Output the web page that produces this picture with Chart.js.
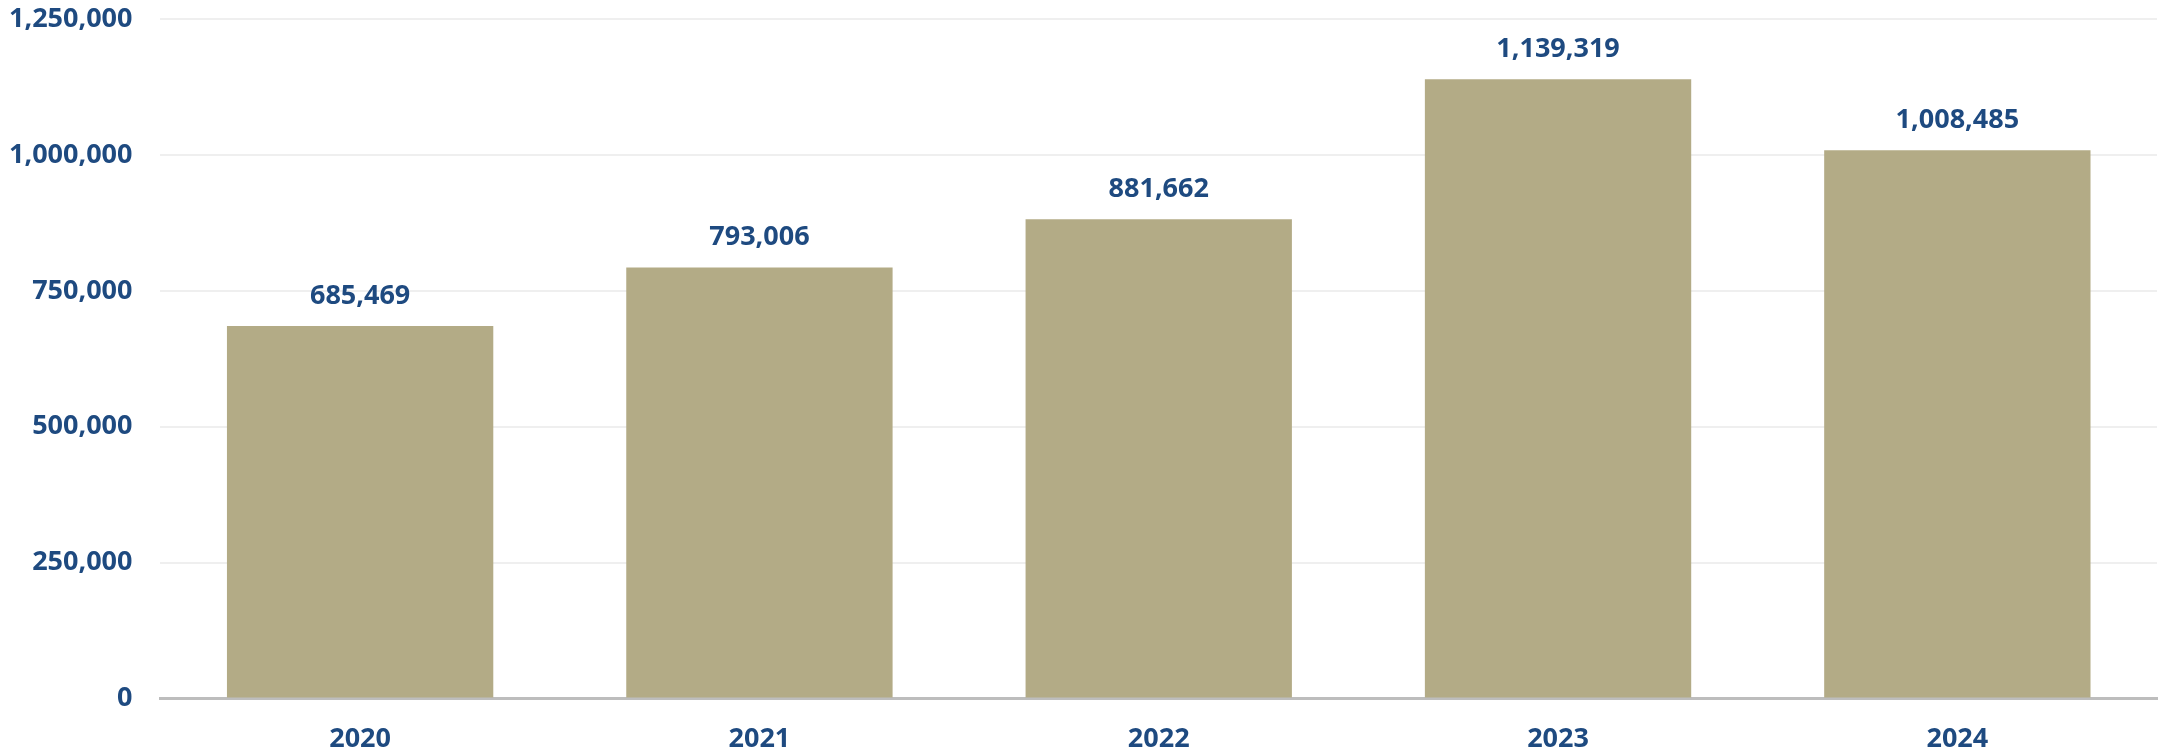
<!DOCTYPE html>
<html>
<head>
<meta charset="utf-8">
<script src="https://cdn.jsdelivr.net/npm/chart.js@4.4.1/dist/chart.umd.min.js"></script>
<style>
  html, body { margin: 0; padding: 0; background: #fff; }
  #wrap { width: 2159px; height: 750px; position: relative; }
</style>
</head>
<body>
<div id="wrap"><canvas id="chart"></canvas></div>
<script>
const years = ["2020", "2021", "2022", "2023", "2024"];
const totals = [685469, 793006, 881662, 1139319, 1008485];
const yTicks = [0, 250000, 500000, 750000, 1000000, 1250000];

const textColor = "#1e4a80";
const fontFamily = "'Open Sans', 'Noto Sans', sans-serif";

const fmt = (v) => Number(v).toLocaleString("en-US");

// values above each bar
const valueLabels = {
  id: "valueLabels",
  afterDatasetsDraw(chart) {
    const ctx = chart.ctx;
    const meta = chart.getDatasetMeta(0);
    ctx.save();
    ctx.font = "bold 27px " + fontFamily;
    ctx.fillStyle = textColor;
    ctx.textAlign = "center";
    ctx.textBaseline = "alphabetic";
    meta.data.forEach((bar, i) => {
      ctx.fillText(fmt(chart.data.datasets[0].data[i]), bar.x, bar.y - 22);
    });
    ctx.restore();
  },
};

const ctx = document.getElementById("chart").getContext("2d");

new Chart(ctx, {
  type: "bar",
  data: {
    labels: years,
    datasets: [
      {
        data: totals,
        backgroundColor: "#b3ab86",
        borderWidth: 0,
        barPercentage: 0.667,
        categoryPercentage: 1,
      },
    ],
  },
  options: {
    responsive: true,
    maintainAspectRatio: false,
    animation: false,
    layout: {
      padding: { top: 19, right: 2, left: 9, bottom: -31 },
    },
    scales: {
      x: {
        grid: { display: false, drawTicks: false },
        border: { color: "#bdbdbd", width: 3 },
        ticks: {
          color: textColor,
          padding: 25,
          font: { family: fontFamily, size: 27, weight: "bold" },
        },
      },
      y: {
        min: 0,
        max: 1250000,
        afterBuildTicks: (axis) => {
          axis.ticks = yTicks.map((v) => ({ value: v }));
        },
        grid: {
          color: "#efefef",
          lineWidth: 2,
          drawTicks: true,
          tickLength: 28,
          tickColor: "rgba(0,0,0,0)",
        },
        border: { display: false },
        ticks: {
          color: textColor,
          padding: 0,
          font: { family: fontFamily, size: 27, weight: "bold" },
          callback: (value) => fmt(value),
        },
      },
    },
    plugins: {
      legend: { display: false },
      tooltip: { enabled: false },
    },
  },
  plugins: [valueLabels],
});
</script>
</body>
</html>
